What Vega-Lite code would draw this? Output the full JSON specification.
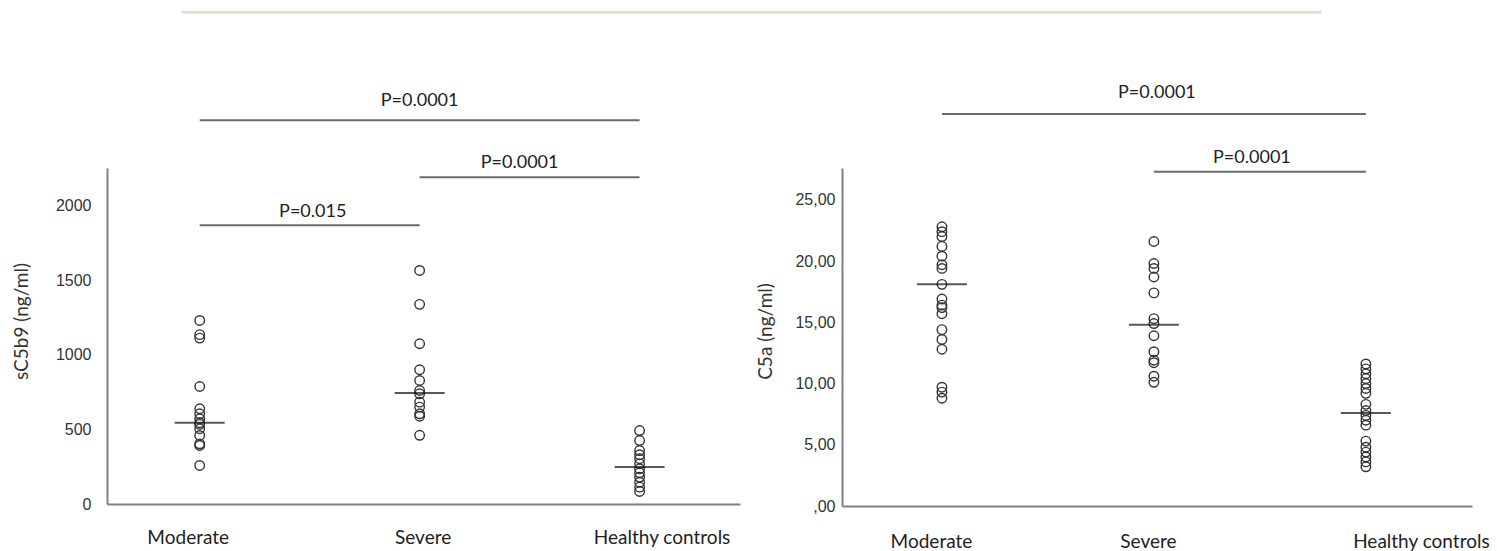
{
  "$schema": "https://vega.github.io/schema/vega-lite/v6.json",
  "background": "white",
  "padding": {"left": 12, "top": 10, "right": 5, "bottom": 5},
  "bounds": "flush",
  "spacing": 102,
  "datasets": {
    "sc5b9": [
      {"group": "Moderate", "value": 1229}, {"group": "Moderate", "value": 1134}, {"group": "Moderate", "value": 1111},
      {"group": "Moderate", "value": 787}, {"group": "Moderate", "value": 638}, {"group": "Moderate", "value": 604},
      {"group": "Moderate", "value": 571}, {"group": "Moderate", "value": 544}, {"group": "Moderate", "value": 533},
      {"group": "Moderate", "value": 504}, {"group": "Moderate", "value": 459}, {"group": "Moderate", "value": 403},
      {"group": "Moderate", "value": 392}, {"group": "Moderate", "value": 258},
      {"group": "Severe", "value": 1564}, {"group": "Severe", "value": 1337}, {"group": "Severe", "value": 1073},
      {"group": "Severe", "value": 899}, {"group": "Severe", "value": 827}, {"group": "Severe", "value": 760},
      {"group": "Severe", "value": 738}, {"group": "Severe", "value": 682}, {"group": "Severe", "value": 649},
      {"group": "Severe", "value": 604}, {"group": "Severe", "value": 588}, {"group": "Severe", "value": 460},
      {"group": "Healthy controls", "value": 492}, {"group": "Healthy controls", "value": 425}, {"group": "Healthy controls", "value": 358},
      {"group": "Healthy controls", "value": 330}, {"group": "Healthy controls", "value": 303}, {"group": "Healthy controls", "value": 269},
      {"group": "Healthy controls", "value": 236}, {"group": "Healthy controls", "value": 209}, {"group": "Healthy controls", "value": 180},
      {"group": "Healthy controls", "value": 146}, {"group": "Healthy controls", "value": 113}, {"group": "Healthy controls", "value": 84}
    ],
    "sc5b9_median": [
      {"group": "Moderate", "median": 544}, {"group": "Severe", "median": 744}, {"group": "Healthy controls", "median": 247}
    ],
    "sc5b9_brackets": [
      {"pair": "MH", "from": "Moderate", "to": "Healthy controls", "anchor": "Severe", "y": 2570, "label": "P=0.0001"},
      {"pair": "SH", "from": "Severe", "to": "Healthy controls", "anchor": "Severe", "y": 2188, "label": "P=0.0001"},
      {"pair": "MS", "from": "Moderate", "to": "Severe", "anchor": "Moderate", "y": 1866, "label": "P=0.015"}
    ],
    "c5a": [
      {"group": "Moderate", "value": 22.8}, {"group": "Moderate", "value": 22.4}, {"group": "Moderate", "value": 22.0},
      {"group": "Moderate", "value": 21.2}, {"group": "Moderate", "value": 20.4}, {"group": "Moderate", "value": 19.7},
      {"group": "Moderate", "value": 19.4}, {"group": "Moderate", "value": 18.1}, {"group": "Moderate", "value": 16.9},
      {"group": "Moderate", "value": 16.4}, {"group": "Moderate", "value": 16.2}, {"group": "Moderate", "value": 15.7},
      {"group": "Moderate", "value": 14.4}, {"group": "Moderate", "value": 13.6}, {"group": "Moderate", "value": 12.8},
      {"group": "Moderate", "value": 9.7}, {"group": "Moderate", "value": 9.3}, {"group": "Moderate", "value": 8.8},
      {"group": "Severe", "value": 21.6}, {"group": "Severe", "value": 19.8}, {"group": "Severe", "value": 19.4},
      {"group": "Severe", "value": 18.7}, {"group": "Severe", "value": 17.4}, {"group": "Severe", "value": 15.3},
      {"group": "Severe", "value": 14.9}, {"group": "Severe", "value": 13.9}, {"group": "Severe", "value": 12.6},
      {"group": "Severe", "value": 11.9}, {"group": "Severe", "value": 11.7}, {"group": "Severe", "value": 10.6},
      {"group": "Severe", "value": 10.1},
      {"group": "Healthy controls", "value": 11.6}, {"group": "Healthy controls", "value": 11.2}, {"group": "Healthy controls", "value": 10.8},
      {"group": "Healthy controls", "value": 10.4}, {"group": "Healthy controls", "value": 10.0}, {"group": "Healthy controls", "value": 9.6},
      {"group": "Healthy controls", "value": 9.2}, {"group": "Healthy controls", "value": 8.3}, {"group": "Healthy controls", "value": 7.8},
      {"group": "Healthy controls", "value": 7.4}, {"group": "Healthy controls", "value": 7.0}, {"group": "Healthy controls", "value": 6.6},
      {"group": "Healthy controls", "value": 5.3}, {"group": "Healthy controls", "value": 4.8}, {"group": "Healthy controls", "value": 4.4},
      {"group": "Healthy controls", "value": 4.0}, {"group": "Healthy controls", "value": 3.6}, {"group": "Healthy controls", "value": 3.2}
    ],
    "c5a_median": [
      {"group": "Moderate", "median": 18.1}, {"group": "Severe", "median": 14.8}, {"group": "Healthy controls", "median": 7.6}
    ],
    "c5a_brackets": [
      {"pair": "MH", "from": "Moderate", "to": "Healthy controls", "anchor": "Severe", "y": 32.0, "label": "P=0.0001"},
      {"pair": "SH", "from": "Severe", "to": "Healthy controls", "anchor": "Severe", "y": 27.3, "label": "P=0.0001"}
    ],
    "frame": [
      {"from": "Moderate", "to": "Healthy controls", "y": 3293}
    ]
  },
  "config": {
    "view": {"stroke": null},
    "axis": {
      "domainColor": "#808080", "domainWidth": 2, "ticks": false, "grid": false,
      "labelFont": "Liberation Sans", "labelFontSize": 16, "labelColor": "#333",
      "titleFont": "Lato", "titleFontWeight": "normal", "titleFontSize": 19, "titleColor": "#333"
    },
    "text": {"font": "Lato", "fontSize": 18, "color": "#222"}
  },
  "hconcat": [
    {
      "width": 633,
      "height": 336,
      "layer": [
        {
          "data": {"name": "sc5b9"},
          "mark": {"type": "point", "shape": "circle", "filled": false, "stroke": "#333", "strokeWidth": 1.4, "size": 90, "opacity": 1},
          "encoding": {
            "x": {
              "field": "group", "type": "nominal", "title": null,
              "scale": {"type": "point", "domain": ["Moderate", "Severe", "Healthy controls"], "padding": 0.439, "align": 0.48},
              "axis": {
                "labelAngle": 0, "labelFont": "Lato", "labelFontSize": 19, "labelColor": "#222", "labelPadding": 24,
                "labelOffset": {"condition": [{"test": "datum.value === 'Moderate'", "value": -12}, {"test": "datum.value === 'Healthy controls'", "value": 22}], "value": 3}
              }
            },
            "y": {
              "field": "value", "type": "quantitative", "title": "sC5b9 (ng/ml)",
              "scale": {"domain": [0, 2250], "nice": false},
              "axis": {"values": [0, 500, 1000, 1500, 2000], "format": "d", "labelPadding": 16, "titlePadding": 24, "titleY": 153}
            }
          }
        },
        {
          "data": {"name": "sc5b9_median"},
          "mark": {"type": "tick", "color": "#111", "size": 50, "thickness": 2},
          "encoding": {
            "x": {"field": "group", "type": "nominal", "title": null},
            "y": {"field": "median", "type": "quantitative", "title": "sC5b9 (ng/ml)"}
          }
        },
        {
          "data": {"name": "sc5b9_brackets"},
          "mark": {"type": "rule", "color": "#6b6b6b", "strokeWidth": 2},
          "encoding": {
            "x": {"field": "from", "type": "nominal", "title": null},
            "x2": {"field": "to"},
            "y": {"field": "y", "type": "quantitative", "title": "sC5b9 (ng/ml)"}
          }
        },
        {
          "data": {"name": "sc5b9_brackets"},
          "transform": [{"filter": "datum.pair === 'MH'"}],
          "mark": {"type": "text", "baseline": "alphabetic", "dy": -14, "dx": 0},
          "encoding": {
            "x": {"field": "anchor", "type": "nominal", "title": null},
            "y": {"field": "y", "type": "quantitative", "title": "sC5b9 (ng/ml)"},
            "text": {"field": "label"}
          }
        },
        {
          "data": {"name": "sc5b9_brackets"},
          "transform": [{"filter": "datum.pair === 'SH'"}],
          "mark": {"type": "text", "baseline": "alphabetic", "dy": -9, "dx": 100},
          "encoding": {
            "x": {"field": "anchor", "type": "nominal", "title": null},
            "y": {"field": "y", "type": "quantitative", "title": "sC5b9 (ng/ml)"},
            "text": {"field": "label"}
          }
        },
        {
          "data": {"name": "sc5b9_brackets"},
          "transform": [{"filter": "datum.pair === 'MS'"}],
          "mark": {"type": "text", "baseline": "alphabetic", "dy": -8, "dx": 113},
          "encoding": {
            "x": {"field": "anchor", "type": "nominal", "title": null},
            "y": {"field": "y", "type": "quantitative", "title": "sC5b9 (ng/ml)"},
            "text": {"field": "label"}
          }
        },
        {
          "data": {"name": "frame"},
          "mark": {"type": "rule", "color": "#e2dfcc", "strokeWidth": 3, "xOffset": -18, "x2Offset": 682},
          "encoding": {
            "x": {"field": "from", "type": "nominal", "title": null},
            "x2": {"field": "to"},
            "y": {"field": "y", "type": "quantitative", "title": "sC5b9 (ng/ml)"}
          }
        }
      ]
    },
    {
      "width": 630,
      "height": 338,
      "layer": [
        {
          "data": {"name": "c5a"},
          "mark": {"type": "point", "shape": "circle", "filled": false, "stroke": "#333", "strokeWidth": 1.4, "size": 90, "opacity": 1},
          "encoding": {
            "x": {
              "field": "group", "type": "nominal", "title": null,
              "scale": {"type": "point", "domain": ["Moderate", "Severe", "Healthy controls"], "padding": 0.486, "align": 0.485},
              "axis": {
                "labelAngle": 0, "labelFont": "Lato", "labelFontSize": 19, "labelColor": "#222", "labelPadding": 26,
                "labelOffset": {"condition": [{"test": "datum.value === 'Moderate'", "value": -11}, {"test": "datum.value === 'Healthy controls'", "value": 55}], "value": -6}
              }
            },
            "y": {
              "field": "value", "type": "quantitative", "title": "C5a (ng/ml)",
              "scale": {"domain": [0, 27.6], "nice": false},
              "axis": {
                "values": [0, 5, 10, 15, 20, 25],
                "labelExpr": "datum.value === 0 ? ',00' : replace(format(datum.value, '.2f'), '.', ',')",
                "labelPadding": 7, "titlePadding": 19, "titleY": 163
              }
            }
          }
        },
        {
          "data": {"name": "c5a_median"},
          "mark": {"type": "tick", "color": "#111", "size": 50, "thickness": 2},
          "encoding": {
            "x": {"field": "group", "type": "nominal", "title": null},
            "y": {"field": "median", "type": "quantitative", "title": "C5a (ng/ml)"}
          }
        },
        {
          "data": {"name": "c5a_brackets"},
          "mark": {"type": "rule", "color": "#6b6b6b", "strokeWidth": 2},
          "encoding": {
            "x": {"field": "from", "type": "nominal", "title": null},
            "x2": {"field": "to"},
            "y": {"field": "y", "type": "quantitative", "title": "C5a (ng/ml)"}
          }
        },
        {
          "data": {"name": "c5a_brackets"},
          "transform": [{"filter": "datum.pair === 'MH'"}],
          "mark": {"type": "text", "baseline": "alphabetic", "dy": -16, "dx": 3},
          "encoding": {
            "x": {"field": "anchor", "type": "nominal", "title": null},
            "y": {"field": "y", "type": "quantitative", "title": "C5a (ng/ml)"},
            "text": {"field": "label"}
          }
        },
        {
          "data": {"name": "c5a_brackets"},
          "transform": [{"filter": "datum.pair === 'SH'"}],
          "mark": {"type": "text", "baseline": "alphabetic", "dy": -9, "dx": 98},
          "encoding": {
            "x": {"field": "anchor", "type": "nominal", "title": null},
            "y": {"field": "y", "type": "quantitative", "title": "C5a (ng/ml)"},
            "text": {"field": "label"}
          }
        }
      ]
    }
  ]
}
